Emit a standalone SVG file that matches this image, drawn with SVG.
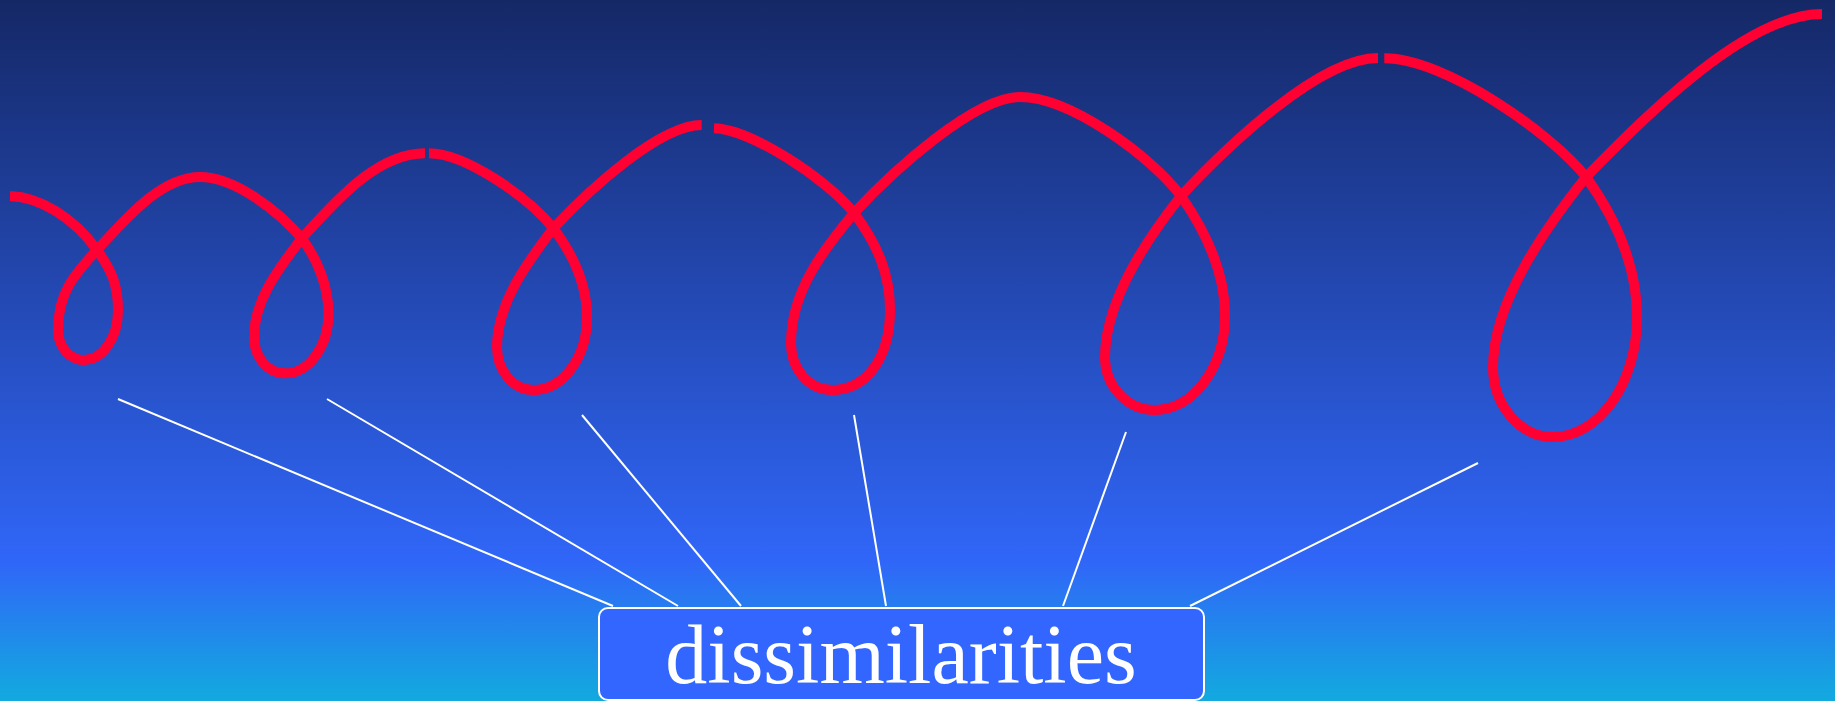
<svg xmlns="http://www.w3.org/2000/svg" width="1835" height="701" viewBox="0 0 1835 701">
<defs>
<linearGradient id="bg" x1="0" y1="0" x2="0" y2="1">
<stop offset="0" stop-color="#152866"/>
<stop offset="0.8" stop-color="#3066f8"/>
<stop offset="1" stop-color="#12aadf"/>
</linearGradient>
<style>
.spiral{fill:none;stroke:#ff0033;stroke-width:10;stroke-linecap:butt;stroke-linejoin:round}
.conn{stroke:#ffffff;stroke-width:2;fill:none}
.box{fill:#3366ff;stroke:#ffffff;stroke-width:2}
.lbl{font-family:"Liberation Serif","Times New Roman",serif;font-size:84px;fill:#ffffff;text-anchor:middle}
</style>
</defs>
<rect x="0" y="0" width="1835" height="701" fill="url(#bg)"/>
<g id="spiral">
<path class="spiral" d="M10,196 C40,197 73.8,217.6 97,250 C111.5,270 118,285 118,310 C118,337.5 102.7,360 84,360 C69.7,360 58,346.5 58,330 C58,294 72.5,276.3 97,250 C124,221 160,177 200,177 C235,177 279,211.5 301.7,238.3 C318.5,260.7 328.5,288 328.5,313.3 C328.5,346 309,373.3 285,373.3 C268,373.3 254,357 254,337 C254,298 282.5,263.9 301.7,238.3 C332.3,205.5 375,153.3 425,153.3
M429,153.3 C465,153.3 528.5,197.1 553.3,228.3 C574.3,256.3 587,285 587,317 C587,357 563,390 533.3,390 C513,390 497,370 497,347 C497,300 532.3,256.3 553.3,228.3 C590.7,188.2 660,125 701.7,125
M714,128.3 C750,129 826,178 854,213 C878,245 890,275 890,310 C890,358 866,390 832,390 C809,390 791,369 791,343 C791,290 825.2,247.7 854,213 C894.8,169.2 975,97 1020,97 C1070,97 1151,156 1181,196 C1206.7,232.9 1225,275 1225,315 C1225,367 1193,410 1155,410 C1127,410 1105,386 1105,357 C1105,300 1150,235 1181,196 C1228.6,144.9 1320,58 1378,58
M1384.3,58.3 C1445,58 1552,134 1586,177 C1618,221.5 1637,270 1637,317 C1637,383 1599,437 1553,437 C1520,437 1493,405 1493,367 C1493,300 1548.8,223.8 1586,177 C1642,120.2 1745,14 1822,14"/>
</g>
<g id="connectors">
<line class="conn" x1="118" y1="399" x2="613" y2="606"/>
<line class="conn" x1="327" y1="399" x2="678" y2="606"/>
<line class="conn" x1="582" y1="415" x2="741" y2="606"/>
<line class="conn" x1="854" y1="415" x2="886" y2="606"/>
<line class="conn" x1="1126" y1="432" x2="1063" y2="606"/>
<line class="conn" x1="1478" y1="463" x2="1190" y2="606"/>
</g>
<g id="node-dissimilarities">
<rect class="box" x="599" y="608" width="605" height="92" rx="9"/>
<text class="lbl" x="901" y="683">dissimilarities</text>
</g>
</svg>
